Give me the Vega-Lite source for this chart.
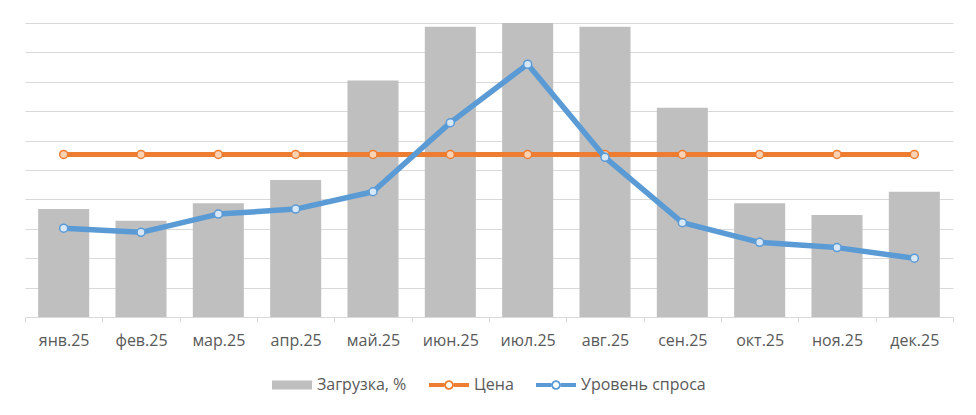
{
  "$schema": "https://vega.github.io/schema/vega-lite/v6.json",
  "width": 928,
  "height": 294,
  "padding": {"left": 24, "top": 23, "right": 24, "bottom": 5},
  "background": "white",
  "data": {
    "values": [
      {"m": "янв.25", "s": "Загрузка, %", "v": 36.7},
      {"m": "фев.25", "s": "Загрузка, %", "v": 32.7},
      {"m": "мар.25", "s": "Загрузка, %", "v": 38.7},
      {"m": "апр.25", "s": "Загрузка, %", "v": 46.6},
      {"m": "май.25", "s": "Загрузка, %", "v": 80.4},
      {"m": "июн.25", "s": "Загрузка, %", "v": 98.7},
      {"m": "июл.25", "s": "Загрузка, %", "v": 100},
      {"m": "авг.25", "s": "Загрузка, %", "v": 98.7},
      {"m": "сен.25", "s": "Загрузка, %", "v": 71.2},
      {"m": "окт.25", "s": "Загрузка, %", "v": 38.7},
      {"m": "ноя.25", "s": "Загрузка, %", "v": 34.7},
      {"m": "дек.25", "s": "Загрузка, %", "v": 42.6},
      {"m": "янв.25", "s": "Цена", "v": 55.3},
      {"m": "фев.25", "s": "Цена", "v": 55.3},
      {"m": "мар.25", "s": "Цена", "v": 55.3},
      {"m": "апр.25", "s": "Цена", "v": 55.3},
      {"m": "май.25", "s": "Цена", "v": 55.3},
      {"m": "июн.25", "s": "Цена", "v": 55.3},
      {"m": "июл.25", "s": "Цена", "v": 55.3},
      {"m": "авг.25", "s": "Цена", "v": 55.3},
      {"m": "сен.25", "s": "Цена", "v": 55.3},
      {"m": "окт.25", "s": "Цена", "v": 55.3},
      {"m": "ноя.25", "s": "Цена", "v": 55.3},
      {"m": "дек.25", "s": "Цена", "v": 55.3},
      {"m": "янв.25", "s": "Уровень спроса", "v": 30.2},
      {"m": "фев.25", "s": "Уровень спроса", "v": 28.8},
      {"m": "мар.25", "s": "Уровень спроса", "v": 35.0},
      {"m": "апр.25", "s": "Уровень спроса", "v": 36.7},
      {"m": "май.25", "s": "Уровень спроса", "v": 42.6},
      {"m": "июн.25", "s": "Уровень спроса", "v": 66.1},
      {"m": "июл.25", "s": "Уровень спроса", "v": 86.0},
      {"m": "авг.25", "s": "Уровень спроса", "v": 54.3},
      {"m": "сен.25", "s": "Уровень спроса", "v": 32.1},
      {"m": "окт.25", "s": "Уровень спроса", "v": 25.4},
      {"m": "ноя.25", "s": "Уровень спроса", "v": 23.6},
      {"m": "дек.25", "s": "Уровень спроса", "v": 20.0}
    ]
  },
  "encoding": {
    "x": {
      "field": "m",
      "type": "ordinal",
      "sort": ["янв.25", "фев.25", "мар.25", "апр.25", "май.25", "июн.25", "июл.25", "авг.25", "сен.25", "окт.25", "ноя.25", "дек.25"],
      "scale": {"paddingInner": 0, "paddingOuter": 0},
      "axis": {
        "title": null,
        "labelAngle": 0,
        "labelFontSize": 16,
        "labelColor": "#595959",
        "labelPadding": 10,
        "domainColor": "#d9d9d9",
        "tickColor": "#d9d9d9",
        "tickSize": 5,
        "tickBand": "extent",
        "grid": false
      }
    },
    "y": {
      "field": "v",
      "type": "quantitative",
      "scale": {"domain": [0, 100], "nice": false},
      "axis": {
        "title": null,
        "labels": false,
        "ticks": false,
        "domain": false,
        "grid": true,
        "gridColor": "#d9d9d9",
        "gridWidth": 1,
        "values": [10, 20, 30, 40, 50, 60, 70, 80, 90, 100]
      }
    },
    "color": {
      "field": "s",
      "type": "nominal",
      "scale": {
        "domain": ["Загрузка, %", "Цена", "Уровень спроса"],
        "range": ["#bfbfbf", "#ed7d31", "#5b9bd5"]
      },
      "legend": {
        "title": null,
        "orient": "none",
        "legendX": 247,
        "legendY": 342,
        "direction": "horizontal",
        "labelFontSize": 16,
        "labelColor": "#595959",
        "symbolSize": 1600,
        "symbolStrokeWidth": 0,
        "symbolOpacity": 1,
        "labelOffset": 5,
        "columnPadding": 22,
        "symbolType": {"expr": "datum.value === 'Загрузка, %' ? 'M-1,-0.225L1,-0.225L1,0.225L-1,0.225Z' : 'M-1,-0.1L-0.24,-0.1L-0.24,0.1L-1,0.1Z M0.24,-0.1L1,-0.1L1,0.1L0.24,0.1Z M0.24,0A0.24,0.24,0,1,1,-0.24,0A0.24,0.24,0,1,1,0.24,0Z M0.15,0A0.15,0.15,0,1,0,-0.15,0A0.15,0.15,0,1,0,0.15,0Z'"}
      }
    }
  },
  "layer": [
    {
      "transform": [{"filter": "datum.s === 'Загрузка, %'"}],
      "mark": {"type": "bar", "width": {"band": 0.66}}
    },
    {
      "transform": [{"filter": "datum.s === 'Цена'"}],
      "mark": {"type": "line", "strokeWidth": 5, "strokeJoin": "round", "strokeCap": "round"}
    },
    {
      "transform": [{"filter": "datum.s === 'Цена'"}],
      "mark": {"type": "point", "shape": "circle", "filled": false, "fill": "#fbd3b4", "fillOpacity": 1, "opacity": 1, "size": 64, "strokeWidth": 1.5}
    },
    {
      "transform": [{"filter": "datum.s === 'Уровень спроса'"}],
      "mark": {"type": "line", "strokeWidth": 5.5, "strokeJoin": "round", "strokeCap": "round"}
    },
    {
      "transform": [{"filter": "datum.s === 'Уровень спроса'"}],
      "mark": {"type": "point", "shape": "circle", "filled": false, "fill": "#d7e7f7", "fillOpacity": 1, "opacity": 1, "size": 64, "strokeWidth": 1.5}
    }
  ],
  "config": {
    "view": {"stroke": null},
    "font": "Open Sans"
  }
}
